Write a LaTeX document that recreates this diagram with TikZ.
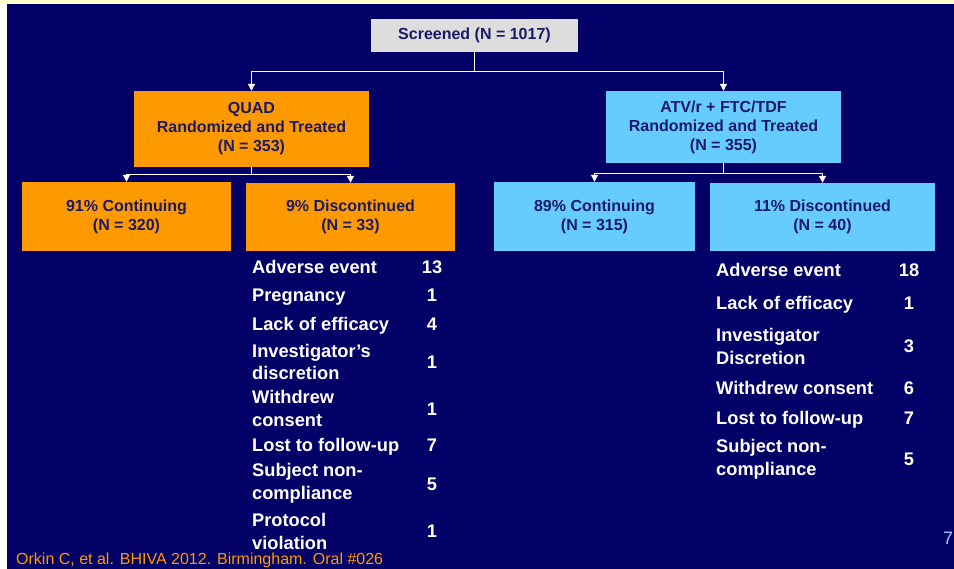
\documentclass[tikz,border=0pt]{standalone}
\usepackage{fontspec}
\setmainfont{Liberation Sans}
\usetikzlibrary{arrows.meta}
\definecolor{navy}{HTML}{020066}
\definecolor{boxorange}{HTML}{FF9900}
\definecolor{boxblue}{HTML}{66CCFF}
\definecolor{boxgray}{HTML}{DDDDDD}
\definecolor{topstrip}{HTML}{FFFFCC}
\definecolor{pagenum}{HTML}{99CCFF}
\definecolor{footorange}{HTML}{FF9900}
\definecolor{boxtext}{HTML}{1A1A66}
\begin{document}
\begin{tikzpicture}[x=1pt,y=-1pt,
  box/.style={draw=none, inner sep=0pt, align=center, text=boxtext,
    font=\fontsize{16}{19}\selectfont\bfseries},
  graybox/.style={box, fill=boxgray},
  orangebox/.style={box, fill=boxorange},
  bluebox/.style={box, fill=boxblue},
  conn/.style={draw=white, line width=1.2pt, -{Triangle[width=7pt,length=7pt]}},
  item/.style={anchor=west, inner sep=0pt, align=left, text=white,
    font=\fontsize{18.25}{22.5}\selectfont\bfseries},
  num/.style={inner sep=0pt, text=white,
    font=\fontsize{18.25}{22.5}\selectfont\bfseries}]
\useasboundingbox (0,0) rectangle (954,569);
% background
\fill[navy] (0,0) rectangle (954,569);
\fill[topstrip] (0,0) rectangle (954,4);
\fill[white] (0,4) rectangle (7,569);

% boxes
\node[graybox, minimum width=207pt, minimum height=33pt] (scr) at (474.5,35.5) {Screened (N = 1017)};
\node[orangebox, minimum width=235pt, minimum height=76pt] (quad) at (251.5,129) {QUAD\\Randomized and Treated\\(N = 353)};
\node[bluebox, minimum width=235pt, minimum height=72pt] (atv) at (723.5,127) {ATV/r + FTC/TDF\\Randomized and Treated\\(N = 355)};
\node[orangebox, minimum width=209pt, minimum height=69pt] (contL) at (126.5,216.5) {91\% Continuing\\(N = 320)};
\node[orangebox, minimum width=209pt, minimum height=68pt] (discL) at (350.5,217) {9\% Discontinued\\(N = 33)};
\node[bluebox, minimum width=201pt, minimum height=69pt] (contR) at (594.5,216.5) {89\% Continuing\\(N = 315)};
\node[bluebox, minimum width=225pt, minimum height=68pt] (discR) at (822.5,217) {11\% Discontinued\\(N = 40)};

% connectors
\draw[conn] (scr.south) -- ++(0,19) -| (quad.north);
\draw[conn] (scr.south) -- ++(0,19) -| (atv.north);
\draw[conn] (quad.south) -- ++(0,7) -| (contL.north);
\draw[conn] (quad.south) -- ++(0,7) -| (discL.north);
\draw[conn] (atv.south) -- ++(0,10) -| (contR.north);
\draw[conn] (atv.south) -- ++(0,10) -| (discR.north);

% left list
\node[item] (la1) at (252,267) {Adverse event};
\node[num] (na1) at (432,267) {13};
\node[item] (la2) at (252,297) {Pregnancy};
\node[num] (na2) at (432,295) {1};
\node[item] (la3) at (252,326) {Lack of efficacy};
\node[num] (na3) at (432,324) {4};
\node[item] (la4) at (252,362) {Investigator’s\\discretion};
\node[num] (na4) at (432,362) {1};
\node[item] (la5) at (252,408.5) {Withdrew\\consent};
\node[num] (na5) at (432,409) {1};
\node[item] (la6) at (252,447) {Lost to follow-up};
\node[num] (na6) at (432,445) {7};
\node[item] (la7) at (252,483.5) {Subject non-\\compliance};
\node[num] (na7) at (432,484) {5};
\node[item] (la8) at (252,531.5) {Protocol\\violation};
\node[num] (na8) at (432,531) {1};

% right list
\node[item] (ra1) at (716,270) {Adverse event};
\node[num] (nb1) at (909,270) {18};
\node[item] (ra2) at (716,305) {Lack of efficacy};
\node[num] (nb2) at (909,303) {1};
\node[item] (ra3) at (716,346.5) {Investigator\\Discretion};
\node[num] (nb3) at (909,346) {3};
\node[item] (ra4) at (716,388) {Withdrew consent};
\node[num] (nb4) at (909,388) {6};
\node[item] (ra5) at (716,420) {Lost to follow-up};
\node[num] (nb5) at (909,418) {7};
\node[item] (ra6) at (716,459.5) {Subject non-\\compliance};
\node[num] (nb6) at (909,459) {5};

% footer
\node[anchor=base west, inner sep=0pt, text=footorange, font=\fontsize{16}{19}\selectfont] (foot) at (16,564) {Orkin C, et al. BHIVA 2012. Birmingham. Oral \#026};
\node[anchor=base west, inner sep=0pt, text=pagenum, font=\fontsize{18}{20}\selectfont] (pg) at (943,544) {7};
\end{tikzpicture}
\end{document}
